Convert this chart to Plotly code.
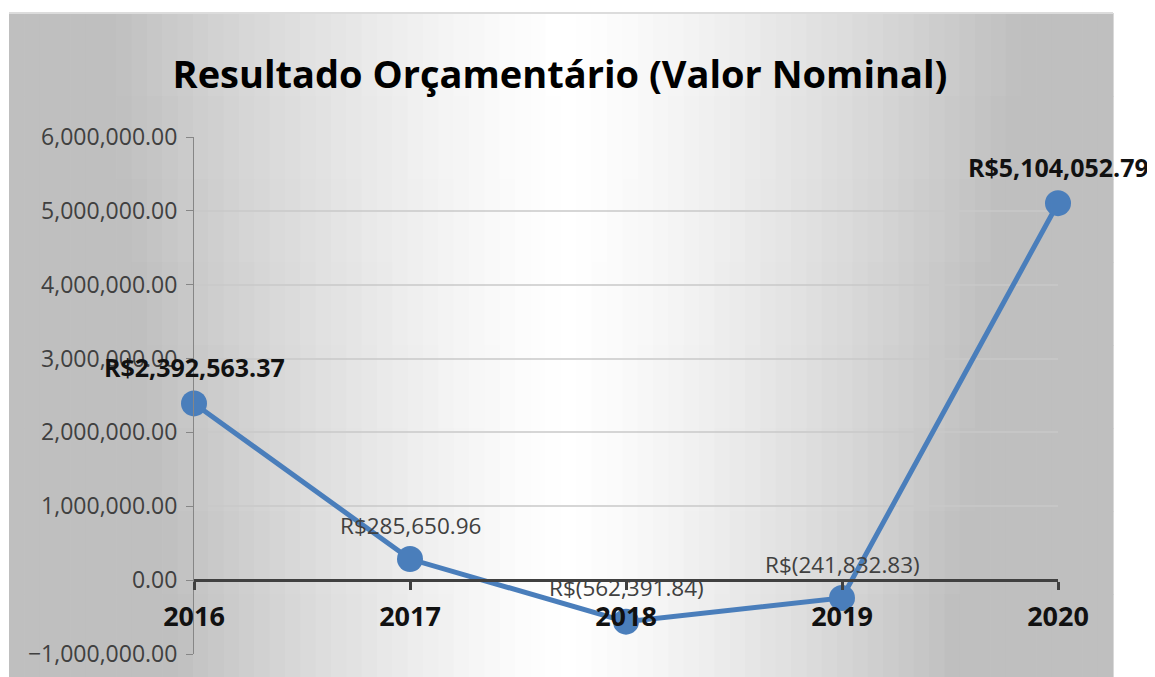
import plotly.graph_objects as go

# ---- data ----
years = [2016, 2017, 2018, 2019, 2020]
year_labels = ["2016", "2017", "2018", "2019", "2020"]
values = [2392563.37, 285650.96, -562391.84, -241832.83, 5104052.79]
bold_label_years = [2016, 2020]
y_ticks = [-1000000, 0, 1000000, 2000000, 3000000, 4000000, 5000000, 6000000]
title_text = "Resultado Orçamentário (Valor Nominal)"

# page has an 8px body margin; size figure to fit the 1155x677 window
OFF = 8
W, H = 1155 - OFF, 677 - OFF
FONT = "Open Sans"
BLUE = "#4a7ebb"


def fmt(v):
    s = f"{abs(v):,.2f}"
    return f"R${s}" if v >= 0 else f"R$({s})"


def px_x(p):
    return (p - OFF) / W


def px_y(p):
    return 1 - (p - OFF) / H


# ---- background gradient (decoration only) ----
shapes = []
X0, X1, Y0, Y1 = 9, 1113, 13, 677
CX = 564
ncol, nrow = 72, 8
cw = (X1 - X0) / ncol
rh = (Y1 - Y0) / nrow
for j in range(nrow):
    cy = Y0 + (j + 0.5) * rh
    half = 458 - (458 - 385) * (cy - Y0) / (Y1 - Y0)
    for i in range(ncol):
        cx = X0 + (i + 0.5) * cw
        r = min(abs(cx - CX) / half, 1.0)
        g = int(round(255 - (255 - 191) * r ** 1.3))
        shapes.append(dict(
            type="rect", xref="paper", yref="paper", layer="below",
            x0=px_x(X0 + i * cw), x1=px_x(X0 + (i + 1) * cw + 0.6),
            y0=px_y(Y0 + (j + 1) * rh + 0.6), y1=px_y(Y0 + j * rh),
            fillcolor=f"rgb({g},{g},{g})", line=dict(width=0),
        ))
# thin light top edge of the chart area
shapes.append(dict(type="line", xref="paper", yref="paper", layer="below",
                   x0=px_x(X0), x1=px_x(X1), y0=px_y(Y0), y1=px_y(Y0),
                   line=dict(color="#dcdcdc", width=2)))

fig = go.Figure()
fig.add_trace(go.Scatter(
    x=years, y=values, mode="lines+markers",
    line=dict(color=BLUE, width=5),
    marker=dict(size=26, color=BLUE),
    cliponaxis=False, showlegend=False, hoverinfo="skip",
))

annotations = []
for yr, v in zip(years, values):
    bold = yr in bold_label_years
    annotations.append(dict(
        x=yr, y=v, xref="x", yref="y", text=fmt(v), showarrow=False,
        yshift=36 if bold else 34,
        font=dict(family=FONT, size=25 if bold else 22.5,
                  color="#111111" if bold else "#404040",
                  weight="bold" if bold else "normal"),
    ))

fig.update_layout(
    width=W, height=H,
    autosize=False,
    margin=dict(l=0, r=0, t=0, b=0, pad=0),
    paper_bgcolor="white",
    plot_bgcolor="rgba(0,0,0,0)",
    shapes=shapes,
    annotations=annotations,
    title=dict(text=title_text, x=px_x(560), y=px_y(75), xref="paper", yref="paper",
               xanchor="center", yanchor="middle", automargin=False,
               font=dict(family=FONT, size=38, color="#000000", weight="bold")),
    xaxis=dict(
        domain=[px_x(194), px_x(1058)], automargin=False,
        range=[2016, 2020], tickvals=years, ticktext=year_labels,
        anchor="free", position=px_y(580),
        showgrid=False, zeroline=False,
        showline=True, linecolor="#404040", linewidth=2.5,
        ticks="outside", ticklen=8, tickwidth=2.5, tickcolor="#404040",
        ticklabelstandoff=4,
        tickfont=dict(family=FONT, size=27, color="#111111", weight="bold"),
    ),
    yaxis=dict(
        domain=[px_y(654), px_y(137)], automargin=False,
        range=[-1000000, 6000000], tickvals=y_ticks, tickformat=",.2f",
        showgrid=True, gridcolor="rgba(200,200,200,0.75)", gridwidth=1.5,
        zeroline=False,
        showline=True, linecolor="#868686", linewidth=1,
        ticks="outside", ticklen=7, tickcolor="#868686",
        ticklabelstandoff=4,
        tickfont=dict(family=FONT, size=23, color="#404040"),
    ),
)

fig.write_html("out.html")
